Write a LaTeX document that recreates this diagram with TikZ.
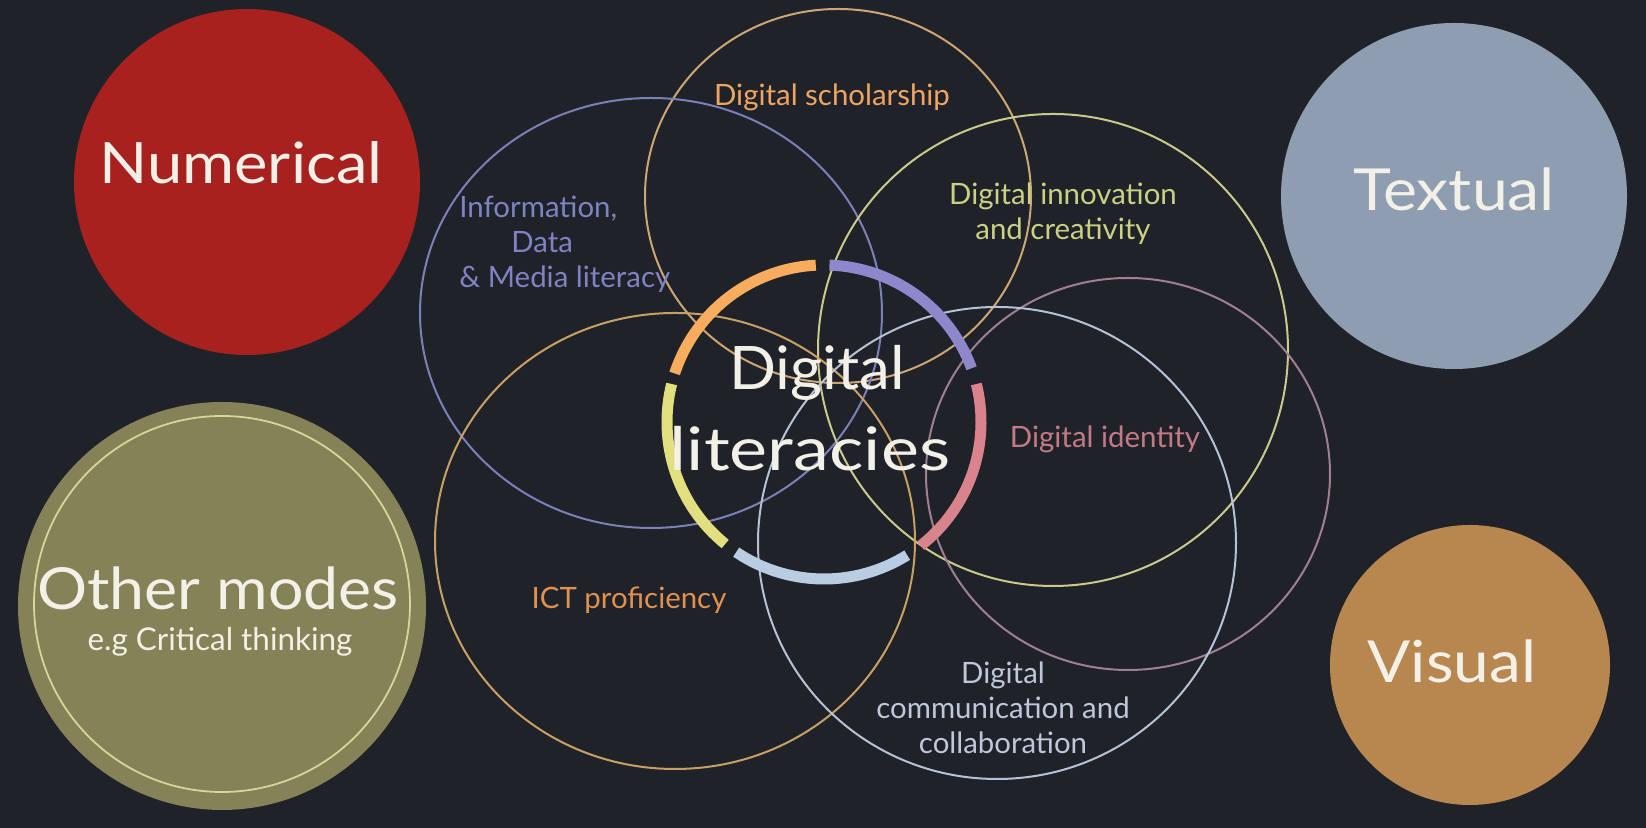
\documentclass[tikz,border=0pt]{standalone}
\usepackage{fontspec}
\setmainfont{Lato}
\definecolor{bg}{HTML}{1F2229}
\definecolor{cNum}{HTML}{A7211E}
\definecolor{cTxt}{HTML}{8E9DAF}
\definecolor{cOth}{HTML}{858257}
\definecolor{cOthRing}{HTML}{D8D49A}
\definecolor{cVis}{HTML}{B8874F}
\definecolor{vSch}{HTML}{CDA673}
\definecolor{vInf}{HTML}{7C80B8}
\definecolor{vInn}{HTML}{CACA8C}
\definecolor{vIde}{HTML}{A0808F}
\definecolor{vIct}{HTML}{C9A064}
\definecolor{vCom}{HTML}{B6C2D6}
\definecolor{rOr}{HTML}{F7AC5E}
\definecolor{rPu}{HTML}{8C88CB}
\definecolor{rPk}{HTML}{D9848C}
\definecolor{rLb}{HTML}{B9CDE2}
\definecolor{rYe}{HTML}{E2E07E}
\definecolor{lSch}{HTML}{EFA460}
\definecolor{lInf}{HTML}{8082C2}
\definecolor{lInn}{HTML}{CBD083}
\definecolor{lIde}{HTML}{C47A86}
\definecolor{lIct}{HTML}{E1914F}
\definecolor{lCom}{HTML}{BFC8DA}
\definecolor{chalk}{HTML}{F3F0E8}
\begin{document}
\begin{tikzpicture}[x=0.5pt,y=0.5pt,
  venn/.style={line width=1pt},
  seg/.style={line width=5.5pt},
  lab/.style={inner sep=0pt, font=\fontsize{14.7}{17.5}\selectfont, align=center},
  title/.style={inner sep=0pt, text=chalk, align=center}]
\fill[bg] (0,0) rectangle (1646,828);
\useasboundingbox (0,0) rectangle (1646,828);
% side circles
\fill[cNum] (247,646) circle [radius=173];
\fill[cTxt] (1454,632) circle [radius=173];
\fill[cOth] (222,222) circle [radius=204];
\draw[cOthRing, line width=0.9pt] (222,224) circle [radius=188];
\fill[cVis] (1470,163) circle [radius=140];
% venn circles
\draw[venn, vSch] (838,632) ellipse [x radius=193, y radius=187];
\draw[venn, vInf] (651,515) ellipse [x radius=231, y radius=215];
\draw[venn, vInn] (1053,478) ellipse [x radius=235, y radius=236];
\draw[venn, vIde] (1128,354) ellipse [x radius=202, y radius=196];
\draw[venn, vIct] (675,287) ellipse [x radius=240, y radius=228];
\draw[venn, vCom] (997,285) ellipse [x radius=239, y radius=236];
% ring
\coordinate (ring) at (824,406);
\draw[seg, rOr] ([shift={(93:157)}]ring) arc [start angle=93, end angle=162, radius=157];
\draw[seg, rPu] ([shift={(20:157)}]ring) arc [start angle=20, end angle=88, radius=157];
\draw[seg, rPk] ([shift={(-52:157)}]ring) arc [start angle=-52, end angle=14, radius=157];
\draw[seg, rLb] ([shift={(-124:157)}]ring) arc [start angle=-124, end angle=-58, radius=157];
\draw[seg, rYe] ([shift={(166:157)}]ring) arc [start angle=166, end angle=231, radius=157];
% labels
\node[lab, text=lSch] (sch) at (832,731) {Digital scholarship};
\node[lab, text=lInf, align=left, anchor=west] (inf) at (459,584) {Information,\\\hspace*{26pt}Data\\\& Media literacy};
\node[lab, text=lInn] (inn) at (1063,614) {Digital innovation\\and creativity};
\node[lab, text=lIde] (ide) at (1105,389) {Digital identity};
\node[lab, text=lIct] (ict) at (629,228) {ICT proficiency};
\node[lab, text=lCom] (com) at (1003,120) {Digital\\communication and\\collaboration};
% titles
\node[title, font=\fontsize{28.5}{30}\selectfont] (num) at (241,665) {\scalebox{1.11}[1]{Numerical}};
\node[title, font=\fontsize{29}{30}\selectfont] (txt) at (1454,639) {\scalebox{1.11}[1]{Textual}};
\node[title, font=\fontsize{29}{30}\selectfont] (oth) at (218,240) {\scalebox{1.08}[1]{Other modes}};
\node[title, font=\fontsize{15.7}{16}\selectfont] (eg) at (220,186) {e.g Critical thinking};
\node[title, font=\fontsize{29}{30}\selectfont] (vis) at (1452,167) {\scalebox{1.1}[1]{Visual}};
\node[title, font=\fontsize{30}{32}\selectfont] (dig) at (817,455) {\scalebox{1.03}[1]{Digital}};
\node[title, font=\fontsize{30}{32}\selectfont] (lit) at (810,379) {\scalebox{1.2}[1]{literacies}};
\end{tikzpicture}
\end{document}
